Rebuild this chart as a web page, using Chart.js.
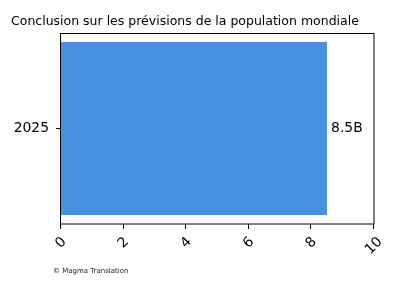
<!DOCTYPE html>
<html>
<head>
<meta charset="utf-8">
<script src="https://cdn.jsdelivr.net/npm/chart.js@4/dist/chart.umd.min.js"></script>
<style>
html,body{margin:0;padding:0;background:#fff;}
#wrap{width:400px;height:300px;}
</style>
</head>
<body>
<div id="wrap"><canvas id="c" width="400" height="300"></canvas></div>
<script>
const categories = ['2025'];
const values = [8.5];
const valueLabels = ['8.5B'];
const xTicks = [0, 2, 4, 6, 8, 10];
const titleText = 'Conclusion sur les prévisions de la population mondiale';
const footerText = '© Magma Translation';

const FONT = "'DejaVu Sans', sans-serif";

const extras = {
  id: 'extras',
  afterDraw(chart) {
    const ctx = chart.ctx;
    const a = chart.chartArea;
    ctx.save();
    // frame
    ctx.strokeStyle = '#000';
    ctx.lineWidth = 1;
    ctx.strokeRect(Math.round(a.left) - 0.5, Math.round(a.top) + 0.5, Math.round(a.right - a.left) + 0.5, Math.round(a.bottom - a.top) - 0.5);
    // x tick marks
    const xs = chart.scales.x;
    ctx.beginPath();
    xTicks.forEach(v => {
      const px = Math.round(xs.getPixelForValue(v)) - 0.5;
      ctx.moveTo(px, a.bottom);
      ctx.lineTo(px, a.bottom + 5);
    });
    ctx.stroke();
    // title
    ctx.fillStyle = '#000';
    ctx.font = '12.5px ' + FONT;
    ctx.textAlign = 'left';
    ctx.textBaseline = 'alphabetic';
    ctx.fillText(titleText, 11, 24.5);
    // footer
    ctx.fillStyle = '#222';
    ctx.font = '7px ' + FONT;
    ctx.fillText(footerText, 53, 273);
    // value labels
    ctx.fillStyle = '#000';
    ctx.font = '13.9px ' + FONT;
    ctx.textBaseline = 'middle';
    const meta = chart.getDatasetMeta(0);
    meta.data.forEach((bar, i) => {
      ctx.fillText(valueLabels[i], bar.x + 4, bar.y);
    });
    // x tick labels rotated 45
    const fs = 13.9;
    xTicks.forEach(v => {
      const px = xs.getPixelForValue(v);
      const label = String(v);
      const w = ctx.measureText(label).width;
      const h = fs * 1.17;
      const bh = (w + h) / Math.SQRT2;
      ctx.save();
      ctx.translate(px, a.bottom + 10 + bh / 2);
      ctx.rotate(-Math.PI / 4);
      ctx.textAlign = 'center';
      ctx.textBaseline = 'middle';
      ctx.fillText(label, 0, 0);
      ctx.restore();
    });
    ctx.restore();
  }
};

new Chart(document.getElementById('c'), {
  type: 'bar',
  data: {
    labels: categories,
    datasets: [{
      data: values,
      backgroundColor: '#4a90e2',
      borderWidth: 0,
      categoryPercentage: 1,
      barPercentage: 0.906
    }]
  },
  options: {
    indexAxis: 'y',
    responsive: false,
    animation: false,
    devicePixelRatio: 1,
    layout: { padding: { top: 33, right: 26, left: 0, bottom: 0 } },
    plugins: {
      legend: { display: false },
      title: { display: false },
      tooltip: { enabled: false }
    },
    scales: {
      x: {
        type: 'linear',
        min: 0,
        max: 10,
        afterBuildTicks(s) { s.ticks = xTicks.map(v => ({ value: v })); },
        afterFit(s) { s.height = 76; },
        ticks: { display: false },
        grid: { display: false },
        border: { display: false }
      },
      y: {
        afterFit(s) { s.width = 61; },
        ticks: { color: '#000', font: { family: FONT, size: 13.9 }, padding: 7 },
        grid: { drawOnChartArea: false, drawTicks: true, tickLength: 5, color: '#000', lineWidth: 1, offset: false },
        border: { display: false }
      }
    }
  },
  plugins: [extras]
});
</script>
</body>
</html>
